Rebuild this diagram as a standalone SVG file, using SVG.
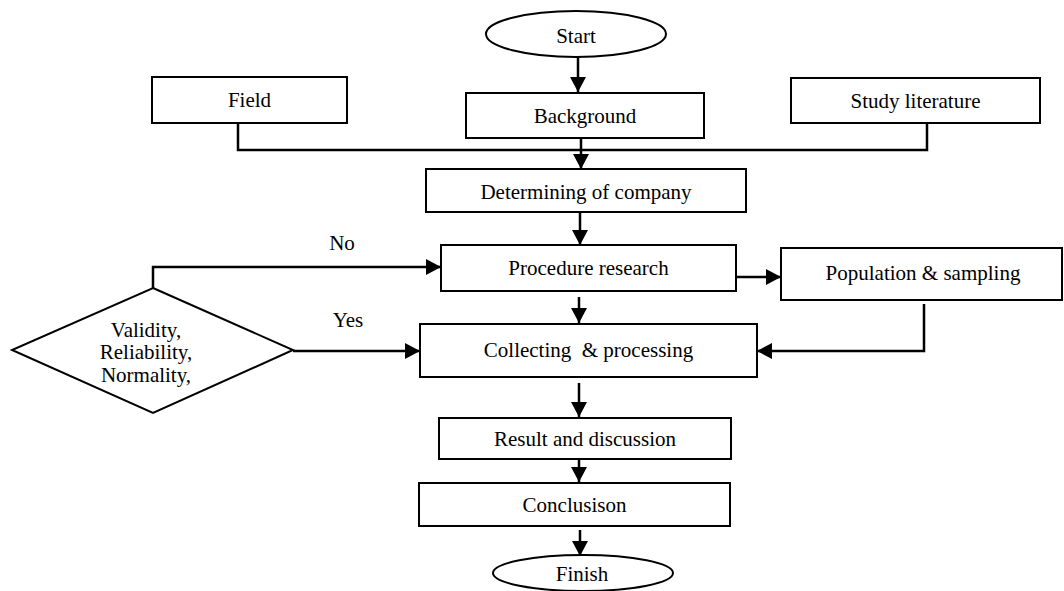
<svg xmlns="http://www.w3.org/2000/svg" width="1064" height="591" viewBox="0 0 1064 591">
<style>
text{font-family:"Liberation Serif","Times New Roman",serif;font-size:21px;fill:#000;text-anchor:middle;white-space:pre}
.box{fill:#fff;stroke:#000;stroke-width:2}
.ln{fill:none;stroke:#000;stroke-width:2.5}
.ar{fill:none;stroke:#000;stroke-width:2.5;marker-end:url(#ah)}
</style>
<defs>
<marker id="ah" viewBox="0 0 15 16" refX="15" refY="8" markerWidth="15" markerHeight="16" markerUnits="userSpaceOnUse" orient="auto">
<path d="M0,0 L15,8 L0,16 z" fill="#000"/>
</marker>
</defs>
<rect width="1064" height="591" fill="#fff"/>
<g id="connectors">
<line class="ar" x1="578" y1="57" x2="578" y2="92"/>
<polyline class="ln" points="238,123 238,150 927,150 927,123"/>
<line class="ar" x1="581" y1="138" x2="581" y2="169"/>
<line class="ar" x1="580" y1="212" x2="580" y2="245"/>
<polyline class="ar" points="153,288 153,267 441,267"/>
<line class="ar" x1="736" y1="277" x2="781" y2="277"/>
<line class="ar" x1="579" y1="297" x2="579" y2="323"/>
<line class="ar" x1="293" y1="351" x2="420" y2="351"/>
<polyline class="ar" points="924,304 924,351 757,351"/>
<line class="ar" x1="579" y1="383" x2="579" y2="417"/>
<line class="ar" x1="579" y1="459" x2="579" y2="482"/>
<line class="ar" x1="580" y1="530" x2="580" y2="556"/>
<text x="342" y="250">No</text>
<text x="348" y="327">Yes</text>
</g>
<g id="start"><ellipse class="box" cx="576" cy="34" rx="90" ry="23"/><text x="576" y="43">Start</text></g>
<g id="field"><rect class="box" x="152" y="77" width="195" height="46"/><text x="249.5" y="107">Field</text></g>
<g id="background"><rect class="box" x="466" y="93" width="238" height="45"/><text x="585" y="123">Background</text></g>
<g id="study-literature"><rect class="box" x="791" y="78" width="249" height="45"/><text x="915.5" y="108">Study literature</text></g>
<g id="determining"><rect class="box" x="426" y="169" width="320" height="43"/><text x="586" y="199">Determining of company</text></g>
<g id="procedure"><rect class="box" x="441" y="245" width="295" height="46"/><text x="588.5" y="275">Procedure research</text></g>
<g id="population"><rect class="box" x="781" y="248" width="281" height="52"/><text x="923" y="280">Population &amp; sampling</text></g>
<g id="decision"><polygon class="box" points="153,288 293,350 153,413 12,350"/><text x="146" y="337">Validity,</text><text x="146" y="359">Reliability,</text><text x="146" y="382">Normality,</text></g>
<g id="collecting"><rect class="box" x="420" y="324" width="337" height="53"/><text x="588.5" y="357">Collecting  &amp; processing</text></g>
<g id="result"><rect class="box" x="439" y="418" width="292" height="41"/><text x="585" y="446">Result and discussion</text></g>
<g id="conclusion"><rect class="box" x="419" y="483" width="311" height="43"/><text x="574.5" y="512">Conclusison</text></g>
<g id="finish"><ellipse class="box" cx="583" cy="573" rx="90" ry="18"/><text x="582" y="581">Finish</text></g>
</svg>
